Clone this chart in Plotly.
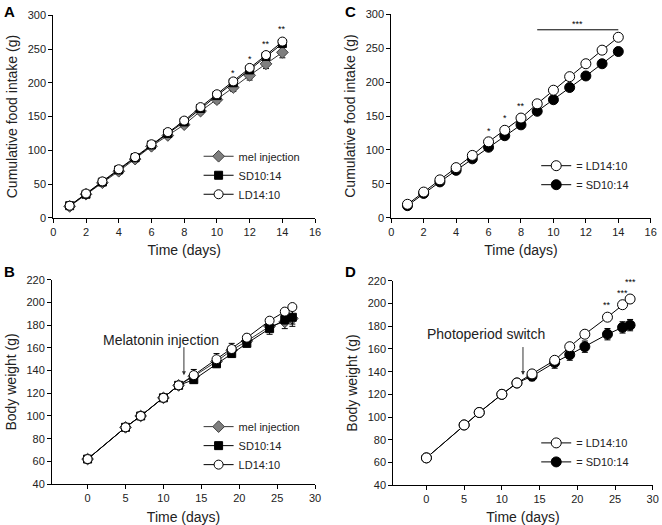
import plotly.graph_objects as go

# ---------------- data ----------------
days_food = [1, 2, 3, 4, 5, 6, 7, 8, 9, 10, 11, 12, 13, 14]

# Panel A: cumulative food intake
A_mel = [17, 35, 52, 69, 87, 106, 122, 138, 158, 175, 193, 211, 228, 245]
A_mel_err = [2, 2, 2, 3, 3, 3, 4, 4, 4, 5, 6, 7, 7, 8]
A_sd = [18, 35, 53, 71, 89, 108, 125, 142, 162, 181, 200, 219, 239, 258]
A_sd_err = [2, 2, 2, 3, 3, 3, 3, 3, 4, 4, 4, 5, 5, 5]
A_ld = [18, 36, 54, 72, 90, 109, 127, 144, 164, 183, 202, 222, 241, 261]
A_ld_err = [2, 2, 2, 2, 2, 3, 3, 3, 3, 3, 3, 3, 3, 3]
A_sig_x = [11, 12, 13, 14]
A_sig_y = [215, 235, 258, 280]
A_sig_txt = ["*", "*", "**", "**"]

# Panel C: cumulative food intake
C_ld = [20, 38, 56, 74, 92, 112, 129, 147, 168, 188, 208, 227, 247, 266]
C_ld_err = [2, 2, 2, 2, 2, 2, 2, 2, 2, 2, 2, 2, 2, 3]
C_sd = [18, 36, 53, 70, 87, 104, 121, 137, 157, 174, 192, 209, 227, 245]
C_sd_err = [2, 2, 2, 3, 3, 3, 3, 3, 4, 4, 4, 4, 5, 5]
C_sig_x = [6, 7, 8]
C_sig_y = [128, 147, 165]
C_sig_txt = ["*", "*", "**"]
C_bar_x = [9, 14]
C_bar_y = 277
C_bar_txt = "***"

# Panel B / D: body weight
days_bw = [0, 5, 7, 10, 12, 14, 17, 19, 21, 24, 26, 27]
B_mel = [62, 90, 100, 116, 127, 135, 148, 158, 166, 179, 183, 186]
B_mel_err = [1, 1, 1, 1, 1, 4, 4, 4, 3, 4, 6, 7]
B_sd = [62, 90, 100, 116, 127, 132, 146, 155, 164, 177, 185, 187]
B_sd_err = [1, 1, 1, 1, 1, 3, 3, 3, 3, 5, 4, 6]
B_ld = [62, 90, 100, 116, 127, 136, 150, 159, 169, 184, 192, 196]
B_ld_err = [1, 1, 1, 1, 1, 5, 5, 5, 3, 2, 2, 2]

D_ld = [64, 93, 104, 120, 130, 138, 150, 162, 173, 188, 199, 204]
D_ld_err = [2, 2, 2, 2, 2, 2, 3, 3, 3, 2, 2, 3]
D_sd = [64, 93, 104, 120, 130, 136, 148, 155, 162, 173, 179, 181]
D_sd_err = [2, 2, 2, 2, 2, 4, 5, 5, 5, 5, 5, 5]
D_sig_x = [24, 26, 27]
D_sig_y = [199, 209, 219]
D_sig_txt = ["**", "***", "***"]

# ---------------- styling ----------------
FONT = "Liberation Sans, Arial, sans-serif"
TXT = "#222222"

def eb(vals):
    return dict(type="data", array=vals, visible=True, color="black", thickness=1, width=3)

fig = go.Figure()

def add(x, y, err, name, xa, ya, legend, symbol, fill, size, line_color="black", outline="black"):
    fig.add_trace(go.Scatter(
        x=x, y=y, error_y=eb(err), name=name, mode="lines+markers",
        xaxis=xa, yaxis=ya, legend=legend,
        line=dict(color=line_color, width=1),
        marker=dict(symbol=symbol, color=fill, size=size, line=dict(color=outline, width=1)),
    ))

# Panel A
add(days_food, A_mel, A_mel_err, "mel injection", "x", "y", "legend", "diamond", "#7f7f7f", 9, "#333333", "#404040")
add(days_food, A_sd, A_sd_err, "SD10:14", "x", "y", "legend", "square", "black", 8)
add(days_food, A_ld, A_ld_err, "LD14:10", "x", "y", "legend", "circle", "white", 9)

# Panel C
add(days_food, C_sd, C_sd_err, "= SD10:14", "x2", "y2", "legend2", "circle", "black", 10)
add(days_food, C_ld, C_ld_err, "= LD14:10", "x2", "y2", "legend2", "circle", "white", 10)

# Panel B
add(days_bw, B_mel, B_mel_err, "mel injection", "x3", "y3", "legend3", "diamond", "#7f7f7f", 9, "#333333", "#404040")
add(days_bw, B_sd, B_sd_err, "SD10:14", "x3", "y3", "legend3", "square", "black", 8)
add(days_bw, B_ld, B_ld_err, "LD14:10", "x3", "y3", "legend3", "circle", "white", 9)

# Panel D
add(days_bw, D_sd, D_sd_err, "= SD10:14", "x4", "y4", "legend4", "circle", "black", 10)
add(days_bw, D_ld, D_ld_err, "= LD14:10", "x4", "y4", "legend4", "circle", "white", 10)

# significance bar in C
fig.add_trace(go.Scatter(x=C_bar_x, y=[C_bar_y, C_bar_y], mode="lines", xaxis="x2", yaxis="y2",
                         line=dict(color="black", width=1), showlegend=False, hoverinfo="skip"))

annotations = []
def stars(xs, ys, ts, xref, yref):
    for x, y, t in zip(xs, ys, ts):
        annotations.append(dict(x=x, y=y, xref=xref, yref=yref, text=t, showarrow=False,
                                font=dict(size=9, family=FONT, color="black")))

stars(A_sig_x, A_sig_y, A_sig_txt, "x", "y")
stars(C_sig_x, C_sig_y, C_sig_txt, "x2", "y2")
stars([sum(C_bar_x) / 2], [C_bar_y + 8], [C_bar_txt], "x2", "y2")
stars(D_sig_x, D_sig_y, D_sig_txt, "x4", "y4")

# arrows with labels
annotations.append(dict(x=12.7, y=136, xref="x3", yref="y3", ax=12.7, ay=162, axref="x3", ayref="y3",
                        showarrow=True, arrowhead=2, arrowsize=0.8, arrowwidth=1, arrowcolor="#333333", text=""))
annotations.append(dict(x=9.7, y=167, xref="x3", yref="y3", text="Melatonin injection", showarrow=False,
                        font=dict(size=14, family=FONT, color=TXT)))
annotations.append(dict(x=12.8, y=137, xref="x4", yref="y4", ax=12.8, ay=163, axref="x4", ayref="y4",
                        showarrow=True, arrowhead=2, arrowsize=0.8, arrowwidth=1, arrowcolor="#333333", text=""))
annotations.append(dict(x=7.9, y=173, xref="x4", yref="y4", text="Photoperiod switch", showarrow=False,
                        font=dict(size=14, family=FONT, color=TXT)))

# panel letters
for lx, ly, t in [(0.003, 0.998, "A"), (0.518, 0.998, "C"), (0.003, 0.502, "B"), (0.518, 0.502, "D")]:
    annotations.append(dict(x=lx, y=ly, xref="paper", yref="paper", text="<b>%s</b>" % t, showarrow=False,
                            xanchor="left", yanchor="top", font=dict(size=15, family=FONT, color="black")))

def xax(domain, rng, dtick, anchor):
    return dict(domain=domain, range=rng, dtick=dtick, tick0=0, anchor=anchor, showgrid=False, zeroline=False,
                showline=True, linecolor="black", linewidth=1, ticks="outside", ticklen=4, tickcolor="black",
                tickfont=dict(size=11, family=FONT, color=TXT), automargin=False,
                title=dict(text="Time (days)", font=dict(size=14, family=FONT, color=TXT), standoff=8))

def yax(domain, rng, dtick, anchor, title):
    return dict(domain=domain, range=rng, dtick=dtick, tick0=0, anchor=anchor, showgrid=False, zeroline=False,
                showline=True, linecolor="black", linewidth=1, ticks="outside", ticklen=4, tickcolor="black",
                tickfont=dict(size=11, family=FONT, color=TXT), automargin=False,
                title=dict(text=title, font=dict(size=14, family=FONT, color=TXT), standoff=6))

def leg(x, y, order):
    return dict(x=x, y=y, xanchor="left", yanchor="top", bgcolor="rgba(0,0,0,0)",
                font=dict(size=11, family=FONT, color=TXT), tracegroupgap=0, itemwidth=30,
                traceorder=order)

fig.update_layout(
    width=662, height=525, margin=dict(l=0, r=0, t=0, b=0),
    paper_bgcolor="white", plot_bgcolor="white",
    showlegend=True,
    xaxis=xax([0.0805, 0.476], [0, 16], 2, "y"),
    yaxis=yax([0.585, 0.971], [0, 300], 50, "x", "Cumulative food intake (g)"),
    xaxis2=xax([0.591, 0.983], [0, 16], 2, "y2"),
    yaxis2=yax([0.585, 0.973], [0, 300], 50, "x2", "Cumulative food intake (g)"),
    xaxis3=xax([0.0785, 0.476], [-4.7, 30], 5, "y3"),
    yaxis3=yax([0.078, 0.467], [40, 220], 20, "x3", "Body weight (g)"),
    xaxis4=xax([0.594, 0.986], [-4.4, 30], 5, "y4"),
    yaxis4=yax([0.076, 0.465], [40, 220], 20, "x4", "Body weight (g)"),
    legend=leg(0.30, 0.73, "normal"),
    legend2=leg(0.81, 0.712, "reversed"),
    legend3=leg(0.30, 0.215, "normal"),
    legend4=leg(0.81, 0.184, "reversed"),
    annotations=annotations,
)

fig.write_html("out.html", config={"displayModeBar": False},
               post_script="document.body.style.margin='0';document.body.style.overflow='hidden';")
